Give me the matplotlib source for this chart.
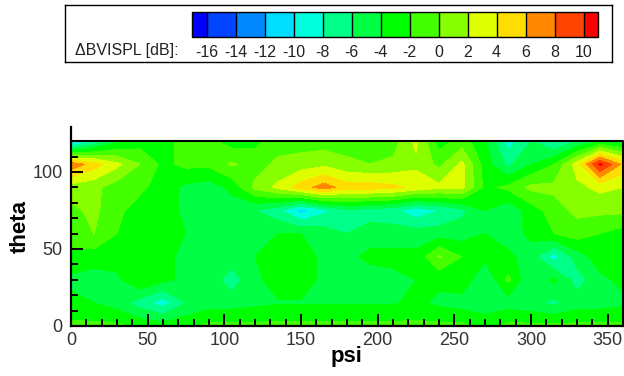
import numpy as np
import matplotlib
matplotlib.use('Agg')
import matplotlib.pyplot as plt
from matplotlib.ticker import MultipleLocator

plt.rcParams['font.family'] = ['Liberation Sans', 'DejaVu Sans']

# grid of the measured zone
psi = np.arange(0, 361, 15)
theta = np.arange(0, 121, 15)

# delta BVISPL [dB], one row per theta (0 -> 120), one value per psi (0 -> 360)
row_t0 = [-1.5, -1.5, -1.5, -2.5, -3, -2.5, -1.5, -1.5, -1.5, -1.5, -1.5, -1.5, -1.5,
          -1.5, -1.5, -1.5, -1.5, -1.5, -2.5, -1.5, -1.5, -1.5, -1.5, -1.5, -1.5]
row_t15 = [-3.5, -4, -5, -7, -9, -6, -5, -5, -4.5, -4.2, -4.2, -4.2, -4.2,
           -4.2, -4.2, -3.5, -4.5, -5, -5.5, -5, -5.5, -6.5, -5, -5, -4.5]
row_t30 = [-4.5, -5, -4.5, -2, -3.5, -4.5, -5, -7, -4.5, -3, -3, -4.5, -5,
           -5, -4.5, -4, -3.5, -2.5, -6, -1.5, -6, -3.5, -7, -4.5, -3.5]
row_t45 = [-2.5, -3, -3, -3, -3.5, -4.5, -5, -5, -4, -3, -3, -4.5, -4.5,
           -3.5, -3.5, -3.5, 0.2, -2, -3.5, -3.5, -5, -9, -5, -3, -3.5]
row_t60 = [-1, 0, -2, -3, -3, -4, -5, -5, -5, -4, -4, -5, -6,
           -5, -5, -5, -5, -5, -4, -5, -3.5, -2, -1, -2, -3]
row_t75 = [-0.5, 0.5, -1.5, -3, -3, -4.5, -5, -5, -6, -7.5, -11, -8.5, -6.5,
           -7, -7.5, -9.5, -8, -6.5, -4, -5.5, -3, -1, 0.5, 0.5, 0.5]
row_t90 = [1, 0.5, -1, -1.5, -3, -4.5, -5, -3.5, 0.5, 2.5, 5, 7, 5,
           5, 4.5, 3.5, 2.5, 2.5, -2.5, -1.5, 0.5, 0.5, 1.5, 2.5, 2]
row_t105 = [7.5, 5, 2.5, 0, -2.5, -1.5, -1.5, 0.3, -1, 0.5, 1, 1.5, 0.5,
            0, 0.5, 1.5, -0.5, 2.5, -3, -6.5, -4, -2, 3, 10.5, 5.5]
row_t120 = [-12, -8, -4.5, -3, -3, -1, -1.5, -3, -2.5, -1, -1, -1, -1,
            -1, -1, 2.5, -3, -1, -3.5, -9, -6, -8.5, -6, -4, -5]

levels = np.arange(-16, 11, 2)
band_colors = ['#0000ff', '#0044ff', '#0088ff', '#00ddff', '#00ffdd', '#00ff88',
               '#00ff44', '#00ff00', '#44ff00', '#88ff00', '#ddff00', '#ffdd00',
               '#ff8800', '#ff4400', '#ff0000']

dspl = np.array([row_t0, row_t15, row_t30, row_t45, row_t60,
                 row_t75, row_t90, row_t105, row_t120])
P, T = np.meshgrid(psi, theta)

fig = plt.figure(figsize=(6.24, 3.76), dpi=100)
ax = fig.add_axes([71 / 624, 50 / 376, 552 / 624, 199 / 376])

cs = ax.contourf(P, T, dspl, levels=levels, colors=band_colors, extend='both')

# zone boundary
ax.plot([psi.min(), psi.max(), psi.max()], [theta.max(), theta.max(), theta.min()],
        color='black', lw=1.5, clip_on=False)

ax.set_xlim(0, 360)
ax.set_ylim(0, 129.2)
for s in ['top', 'right']:
    ax.spines[s].set_visible(False)
for s in ['left', 'bottom']:
    ax.spines[s].set_linewidth(1.6)

ax.xaxis.set_major_locator(MultipleLocator(50))
ax.xaxis.set_minor_locator(MultipleLocator(10))
ax.set_yticks([0, 50, 100])
ax.set_yticks(np.arange(10, 121, 10), minor=True)
ax.tick_params(which='both', direction='in', width=1.4, colors='black',
               labelcolor='#333333', labelsize=13)
ax.tick_params(which='major', length=8.5)
ax.tick_params(which='minor', length=5)
ax.tick_params(axis='x', pad=4)
ax.tick_params(axis='y', pad=6)

ax.set_xlabel('psi', fontsize=16, fontweight='bold', labelpad=-2)
ax.set_ylabel('theta', fontsize=16, fontweight='bold', labelpad=1)

# legend box
box = fig.add_axes([65 / 624, 1 - 62 / 376, 547 / 624, 57 / 376])
box.set_xticks([])
box.set_yticks([])
for s in box.spines.values():
    s.set_linewidth(1)

cax = fig.add_axes([192 / 624, 1 - 37 / 376, 406 / 624, 25 / 376])
cb = fig.colorbar(cs, cax=cax, orientation='horizontal', drawedges=True,
                  extendrect=True, extendfrac=0.5 / 13)
cb.set_ticks(levels)
cb.set_ticklabels([str(v) for v in levels])
cb.outline.set_linewidth(1)
cb.dividers.set_linewidth(1)
cax.tick_params(length=0, pad=6, labelsize=11.5, labelcolor='#222222')

fig.text(75 / 624, 1 - 50 / 376, 'ΔBVISPL [dB]:', fontsize=11.5, color='#222222',
         ha='left', va='center')

fig.savefig('out.png', dpi=100)
